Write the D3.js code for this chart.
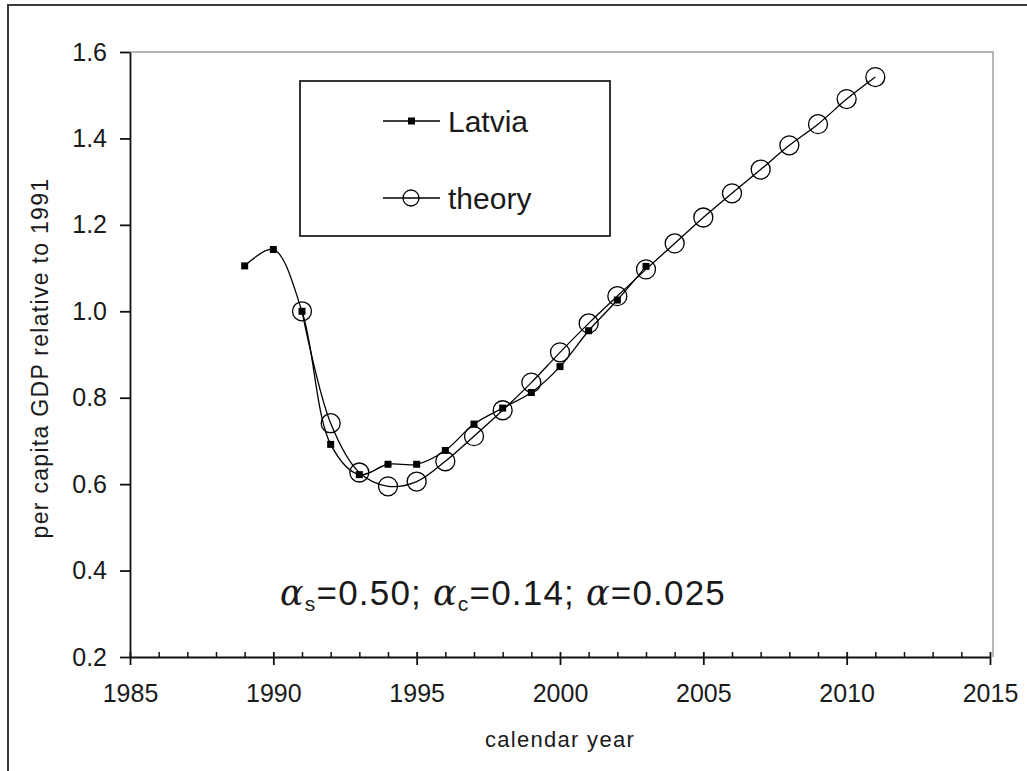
<!doctype html>
<html lang="en">
<head>
  <meta charset="utf-8">
  <title>Latvia · per capita GDP</title>
  <style>
    body { margin: 0; background: #fff; }
    svg text { font-family: "Liberation Sans", Arial, sans-serif; fill: #1a1a1a; }
  </style>
</head>
<body>
  <div id="chart"></div>
  <script src="https://d3js.org/d3.v7.min.js"></script>
  <script>
    // Data ------------------------------------------------------------------------------------------------------------
    const latviaYears = [1989, 1990, 1991, 1992, 1993, 1994, 1995, 1996, 1997, 1998, 1999, 2000, 2001, 2002, 2003];
    const latviaValues = [1.105, 1.143, 1.0, 0.692, 0.622, 0.646, 0.646, 0.678, 0.739, 0.776, 0.812, 0.872, 0.955, 1.026, 1.104];

    const theoryYears = [1991, 1992, 1993, 1994, 1995, 1996, 1997, 1998, 1999, 2000, 2001, 2002, 2003, 2004, 2005,
      2006, 2007, 2008, 2009, 2010, 2011];
    const theoryValues = [1.0, 0.741, 0.627, 0.595, 0.606, 0.653, 0.711, 0.771, 0.835, 0.905, 0.972, 1.035, 1.097,
      1.157, 1.217, 1.273, 1.328, 1.384, 1.433, 1.491, 1.542];

    const xTicks = [1985, 1990, 1995, 2000, 2005, 2010, 2015];
    const yTicks = [0.2, 0.4, 0.6, 0.8, 1.0, 1.2, 1.4, 1.6];

    // Canvas ----------------------------------------------------------------------------------------------------------
    const width = 1027;
    const height = 771;
    const plot = { left: 130, right: 990, top: 52, bottom: 657 };

    const svg = d3.select("#chart")
      .append("svg")
      .attr("width", width)
      .attr("height", height);

    // outer frame (only top and left edges visible)
    svg.append("path")
      .attr("d", "M8," + height + " V5 H" + width)
      .style("fill", "none")
      .style("stroke", "#3a3a3a")
      .style("stroke-width", 2);

    const x = d3.scaleLinear().domain([1985, 2015]).range([plot.left, plot.right]);
    const y = d3.scaleLinear().domain([0.2, 1.6]).range([plot.bottom, plot.top]);

    // plot area top / right edge
    svg.append("path")
      .attr("d", "M" + plot.left + "," + plot.top + " H" + (plot.right + 3) + " V" + plot.bottom)
      .style("fill", "none")
      .style("stroke", "#a0a0a0")
      .style("stroke-width", 1.5);

    // Axes ------------------------------------------------------------------------------------------------------------
    const minorYears = d3.range(1985, 2016).filter(d => d % 5 !== 0);
    svg.append("g")
      .attr("transform", "translate(0," + plot.bottom + ")")
      .call(d3.axisBottom(x).tickValues(minorYears).tickSize(-5).tickFormat(""))
      .call(g => g.select(".domain").remove())
      .selectAll("line")
      .style("stroke", "#111")
      .style("stroke-width", 1.5);

    const xAxis = svg.append("g")
      .attr("transform", "translate(0," + plot.bottom + ")")
      .call(d3.axisBottom(x).tickValues(xTicks).tickSize(8).tickSizeOuter(0).tickPadding(19)
        .tickFormat(d3.format("d")));
    xAxis.selectAll("line").attr("y1", -5);
    xAxis.selectAll("path, line").style("stroke", "#111").style("stroke-width", 1.8);
    xAxis.selectAll("text").style("font-size", "25px");

    const yAxis = svg.append("g")
      .attr("transform", "translate(" + plot.left + ",0)")
      .call(d3.axisLeft(y).tickValues(yTicks).tickSize(10).tickSizeOuter(0).tickPadding(13)
        .tickFormat(d3.format(".1f")));
    yAxis.selectAll("path, line").style("stroke", "#111").style("stroke-width", 1.8);
    yAxis.selectAll("text").style("font-size", "25px");

    svg.append("text")
      .attr("x", 560)
      .attr("y", 747)
      .attr("text-anchor", "middle")
      .style("font-size", "22px")
      .style("letter-spacing", "1.3px")
      .text("calendar year");

    svg.append("text")
      .attr("transform", "translate(48,358) rotate(-90)")
      .attr("text-anchor", "middle")
      .style("font-size", "23px")
      .style("letter-spacing", "1.3px")
      .text("per capita GDP relative to 1991");

    // Series ----------------------------------------------------------------------------------------------------------
    const latvia = latviaYears.map((d, i) => [d, latviaValues[i]]);
    const theory = theoryYears.map((d, i) => [d, theoryValues[i]]);

    const line = d3.line()
      .x(d => x(d[0]))
      .y(d => y(d[1]))
      .curve(d3.curveCatmullRom.alpha(0.5));

    [latvia, theory].forEach(series => {
      svg.append("path")
        .datum(series)
        .attr("d", line)
        .style("fill", "none")
        .style("stroke", "#000")
        .style("stroke-width", 1.3);
    });

    svg.append("g")
      .selectAll("rect")
      .data(latvia)
      .join("rect")
      .attr("x", d => x(d[0]) - 3.5)
      .attr("y", d => y(d[1]) - 3.5)
      .attr("width", 7)
      .attr("height", 7)
      .style("fill", "#000");

    svg.append("g")
      .selectAll("circle")
      .data(theory)
      .join("circle")
      .attr("cx", d => x(d[0]))
      .attr("cy", d => y(d[1]))
      .attr("r", 9.5)
      .style("fill", "none")
      .style("stroke", "#000")
      .style("stroke-width", 1.3);

    // Legend ----------------------------------------------------------------------------------------------------------
    const legend = svg.append("g");
    legend.append("rect")
      .attr("x", 300)
      .attr("y", 81)
      .attr("width", 310)
      .attr("height", 155)
      .style("fill", "#fff")
      .style("stroke", "#222")
      .style("stroke-width", 1.8);

    const legendItems = [
      { label: "Latvia", y: 121, marker: "square" },
      { label: "theory", y: 198, marker: "circle" }
    ];
    legendItems.forEach(item => {
      legend.append("line")
        .attr("x1", 383).attr("x2", 440)
        .attr("y1", item.y).attr("y2", item.y)
        .style("stroke", "#000")
        .style("stroke-width", 1.3);
      if (item.marker === "square") {
        legend.append("rect")
          .attr("x", 408).attr("y", item.y - 3.5)
          .attr("width", 7).attr("height", 7)
          .style("fill", "#000");
      } else {
        legend.append("circle")
          .attr("cx", 411).attr("cy", item.y).attr("r", 8)
          .style("fill", "none")
          .style("stroke", "#000")
          .style("stroke-width", 1.3);
      }
      legend.append("text")
        .attr("x", 448)
        .attr("y", item.y + 11)
        .style("font-size", "30px")
        .text(item.label);
    });

    // Parameter annotation --------------------------------------------------------------------------------------------
    const note = svg.append("text")
      .attr("x", 280)
      .attr("y", 605)
      .style("font-size", "35px")
      .style("letter-spacing", "1.2px");
    note.append("tspan").style("font-family", "'DejaVu Serif', serif").style("font-style", "italic").text("α");
    note.append("tspan").attr("dy", 6).style("font-size", "21px").text("s");
    note.append("tspan").attr("dy", -6).text("=0.50; ");
    note.append("tspan").style("font-family", "'DejaVu Serif', serif").style("font-style", "italic").text("α");
    note.append("tspan").attr("dy", 6).style("font-size", "21px").text("c");
    note.append("tspan").attr("dy", -6).text("=0.14; ");
    note.append("tspan").style("font-family", "'DejaVu Serif', serif").style("font-style", "italic").text("α");
    note.append("tspan").text("=0.025");
  </script>
</body>
</html>
